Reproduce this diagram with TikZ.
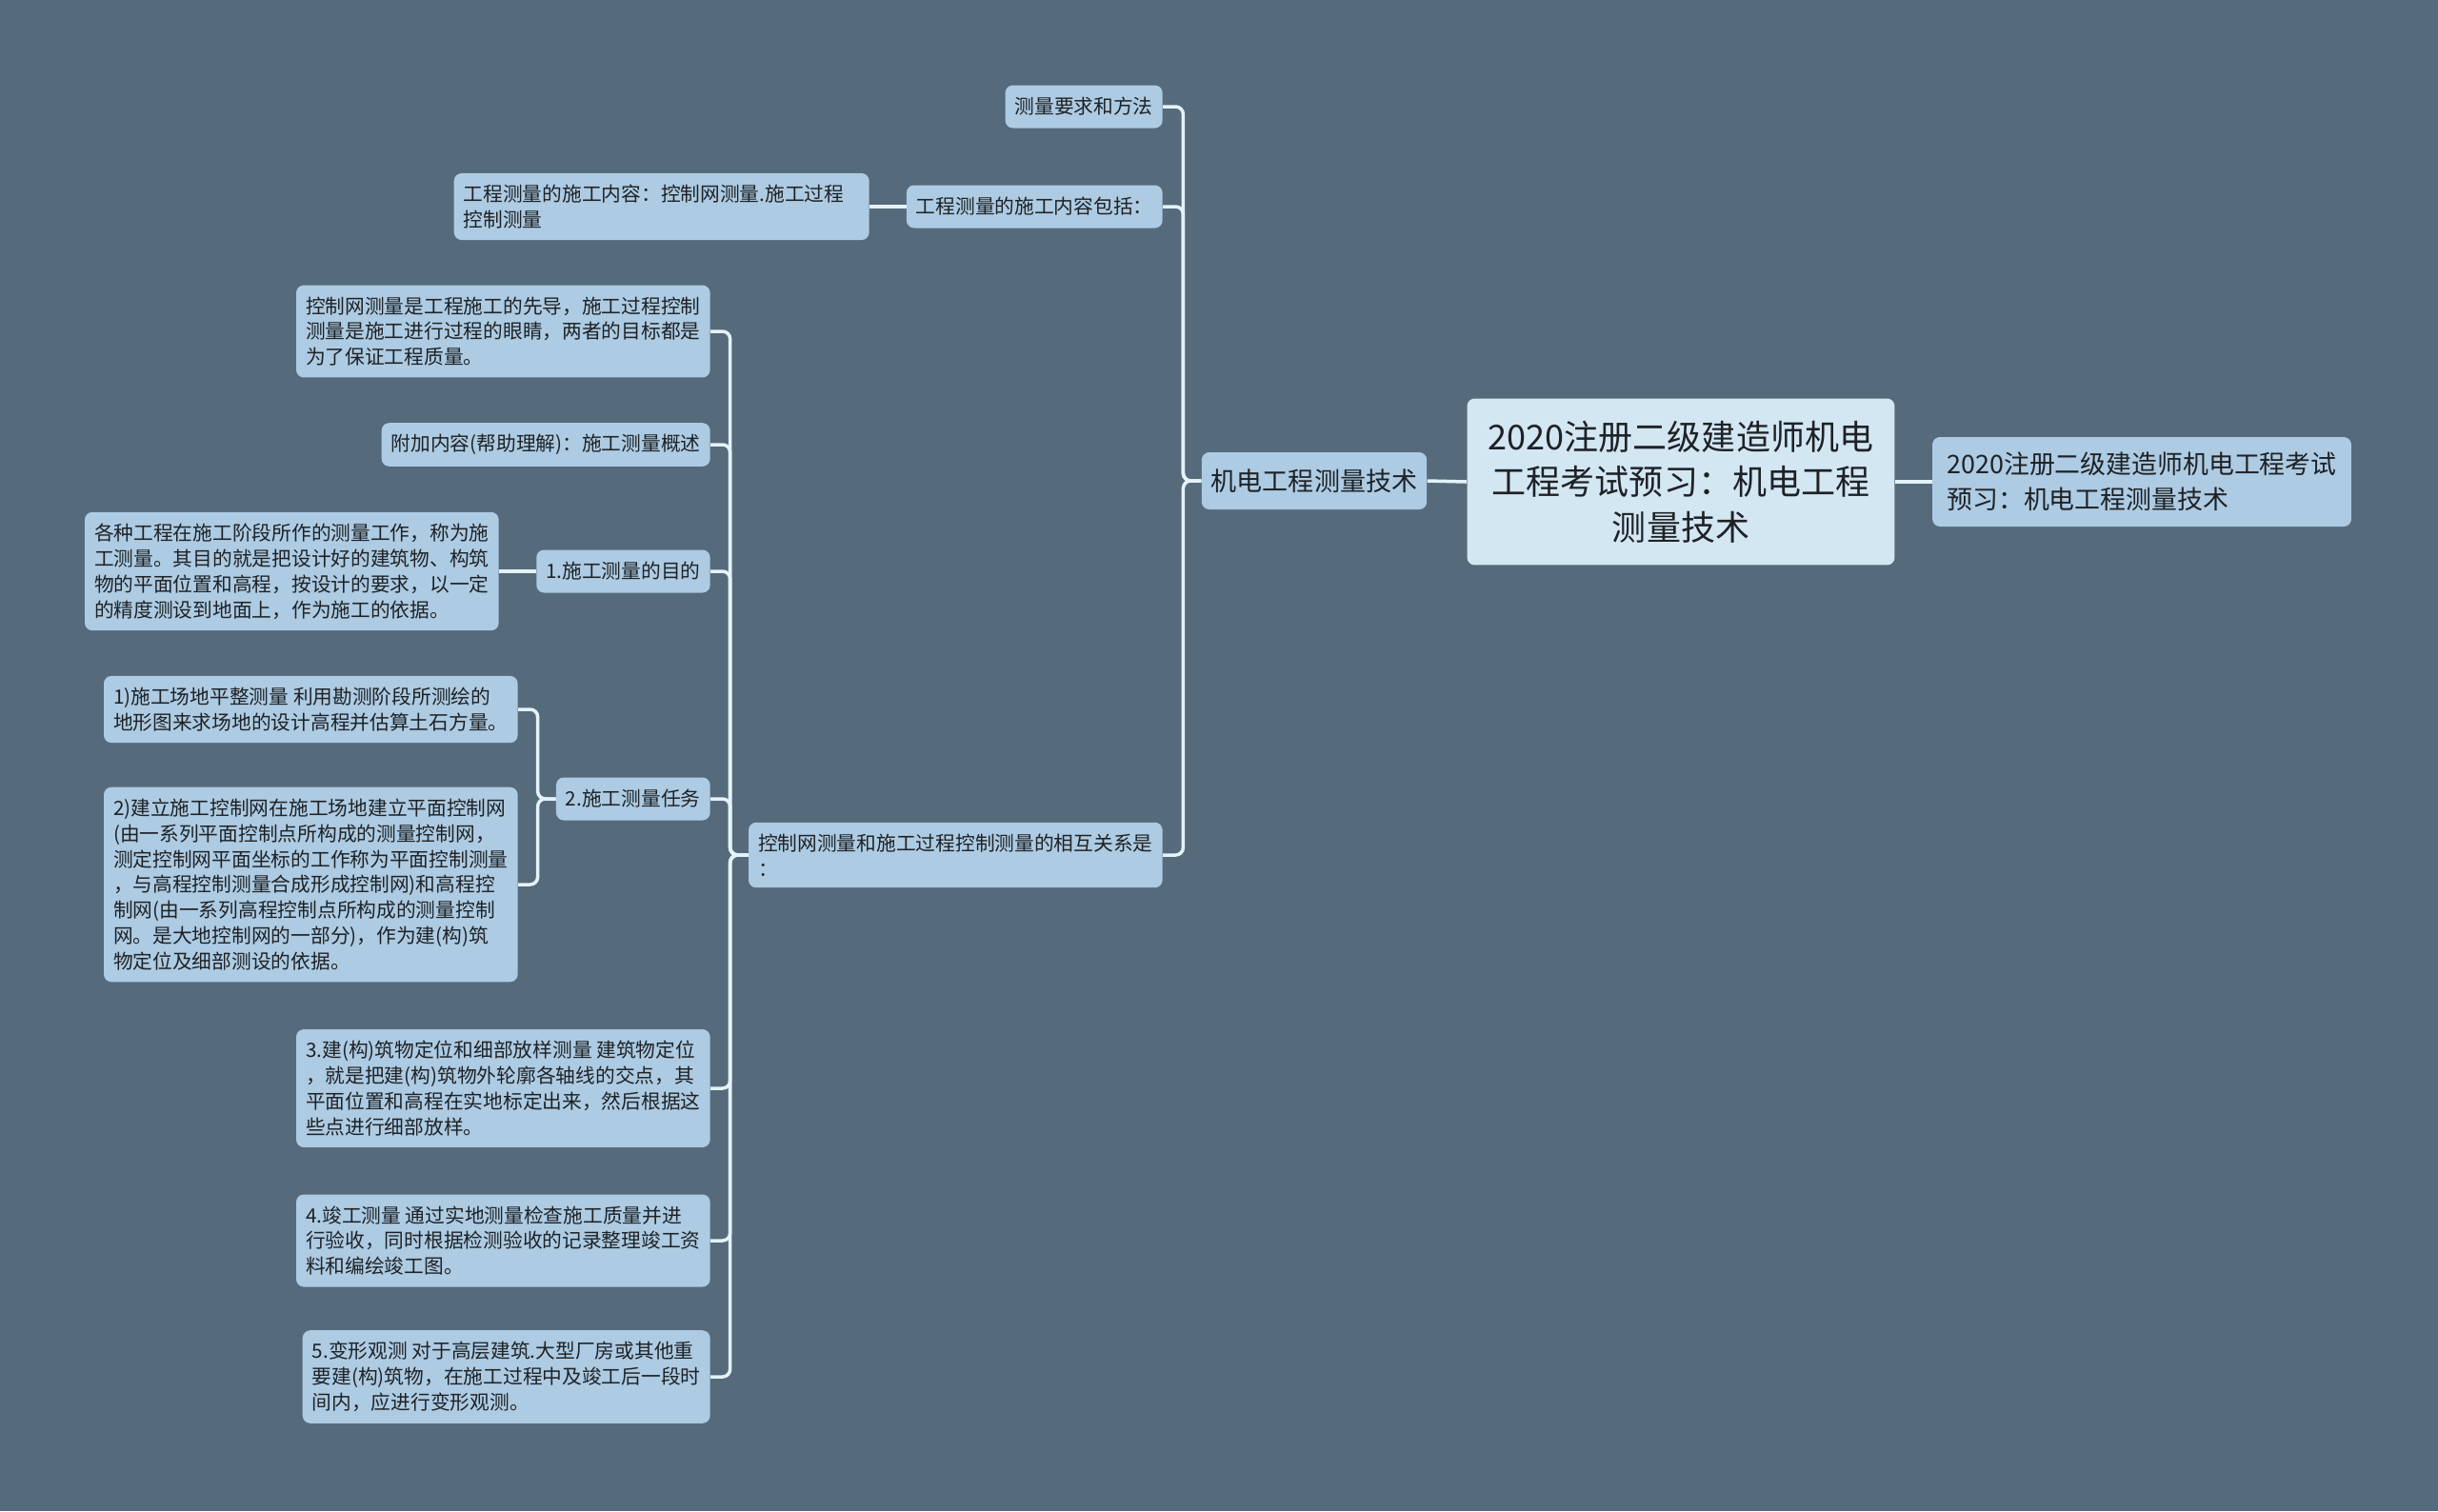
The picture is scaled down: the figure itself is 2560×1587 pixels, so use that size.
\documentclass[tikz,border=0pt]{standalone}
\usepackage{fontspec}
\setmainfont{Noto Sans CJK SC}
\usepackage{tikz}
\usepackage{xcolor}
\usetikzlibrary{positioning, calc}

\definecolor{bgc}{HTML}{556A7B}
\definecolor{leaffill}{HTML}{ADCBE2}
\definecolor{rootfill}{HTML}{D3E7F3}
\definecolor{linkc}{HTML}{E4F2F9}
\definecolor{textc}{HTML}{1E2226}

\begin{document}
\begin{tikzpicture}[x=0.02cm, y=-0.02cm,
    leaf/.style={fill=leaffill, text=textc, rounded corners=0.16cm, align=left,
        inner xsep=0.2cm, inner ysep=0.24cm, minimum height=0.9cm,
        font=\fontsize{11.8}{15.3}\selectfont, anchor=east},
    mid/.style={leaf, inner xsep=0.2cm, minimum height=1.2cm,
        font=\fontsize{15.4}{20}\selectfont, anchor=center},
    link/.style={draw=linkc, line width=2pt, rounded corners=0.16cm}]
    % Background and page size
    \fill[bgc] (0,0) rectangle (2560,1587);
    \useasboundingbox (0,0) rectangle (2560,1587);

    % Central topic and its right neighbour
    \node[mid, fill=rootfill, align=center, minimum width=8.98cm, minimum height=3.5cm,
        font=\fontsize{20.5}{27}\selectfont] (root) at (1765,506)
        {2020注册二级建造师机电\\工程考试预习：机电工程\\测量技术};
    \node[mid, minimum width=8.8cm, minimum height=1.88cm, inner xsep=0.15cm,
        font=\fontsize{15.3}{21}\selectfont] (title) at (2249,506)
        {2020注册二级建造师机电工程考试\\预习：机电工程测量技术};
    \node[mid] (tech) at (1380,505) {机电工程测量技术};

    % First level
    \node[leaf] (req) at (1221,112) {测量要求和方法};
    \node[leaf] (content) at (1221,217) {工程测量的施工内容包括：};
    \node[leaf, text width=8.32cm] (contentd) at (913,217) {工程测量的施工内容：控制网测量.施工过程\\控制测量};
    \node[leaf] (relation) at (1221,898) {控制网测量和施工过程控制测量的相互关系是\\：};

    % Children of the relation node
    \node[leaf] (lead) at (746,348) {控制网测量是工程施工的先导，施工过程控制\\测量是施工进行过程的眼睛，两者的目标都是\\为了保证工程质量。};
    \node[leaf] (extra) at (746,467) {附加内容(帮助理解)：施工测量概述};
    \node[leaf] (purpose) at (746,600) {1.施工测量的目的};
    \node[leaf] (purposed) at (524,600) {各种工程在施工阶段所作的测量工作，称为施\\工测量。其目的就是把设计好的建筑物、构筑\\物的平面位置和高程，按设计的要求，以一定\\的精度测设到地面上，作为施工的依据。};
    \node[leaf] (task) at (746,839) {2.施工测量任务};
    \node[leaf] (taska) at (544,745) {1)施工场地平整测量 利用勘测阶段所测绘的\\地形图来求场地的设计高程并估算土石方量。};
    \node[leaf] (taskb) at (544,929) {2)建立施工控制网在施工场地建立平面控制网\\(由一系列平面控制点所构成的测量控制网，\\测定控制网平面坐标的工作称为平面控制测量\\，与高程控制测量合成形成控制网)和高程控\\制网(由一系列高程控制点所构成的测量控制\\网。是大地控制网的一部分)，作为建(构)筑\\物定位及细部测设的依据。};
    \node[leaf] (setout) at (746,1143) {3.建(构)筑物定位和细部放样测量 建筑物定位\\，就是把建(构)筑物外轮廓各轴线的交点，其\\平面位置和高程在实地标定出来，然后根据这\\些点进行细部放样。};
    \node[leaf] (final) at (746,1303) {4.竣工测量 通过实地测量检查施工质量并进\\行验收，同时根据检测验收的记录整理竣工资\\料和编绘竣工图。};
    \node[leaf] (deform) at (746,1446) {5.变形观测 对于高层建筑.大型厂房或其他重\\要建(构)筑物，在施工过程中及竣工后一段时\\间内，应进行变形观测。};

    % Connectors
    \draw[link] (root.east) -- (title.west);
    \draw[link] (root.west) -- (tech.east);
    \foreach \c in {req,content,relation} {
        \draw[link] (tech.west) -- ++(-19,0) |- (\c.east);
    }
    \draw[link] (content.west) -- (contentd.east);
    \foreach \c in {lead,extra,purpose,task,setout,final,deform} {
        \draw[link] (relation.west) -- ++(-19,0) |- (\c.east);
    }
    \draw[link] (purpose.west) -- (purposed.east);
    \foreach \c in {taska,taskb} {
        \draw[link] (task.west) -- ++(-19,0) |- (\c.east);
    }
\end{tikzpicture}
\end{document}
